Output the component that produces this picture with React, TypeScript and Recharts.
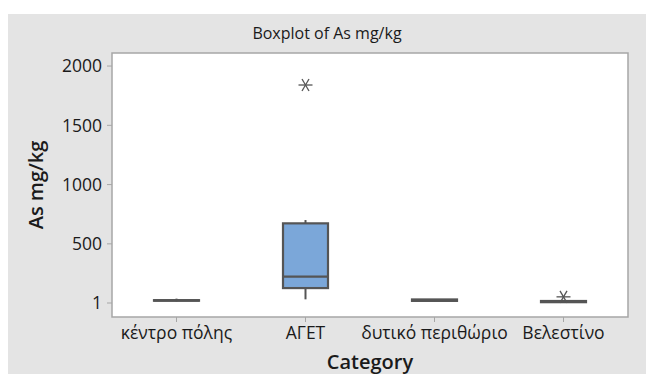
import { ComposedChart, Bar, Scatter, XAxis, YAxis, ReferenceArea } from 'recharts';

// five-number summaries per sampling area
const categories = ['κέντρο πόλης', 'ΑΓΕΤ', 'δυτικό περιθώριο', 'Βελεστίνο'];
const whiskerLow = [15, 32, 15, 5];
const q1Values = [20, 127, 19, 8];
const medianValues = [23, 223, 25, 12];
const q3Values = [25, 673, 31, 18];
const whiskerHigh = [38, 701, 35, 22];
const outlierValues = [null, 1840, null, 53];

const yTicks = [1, 500, 1000, 1500, 2000];
const Y_MIN = -117;
const Y_MAX = 2110;

const data = categories.map((cat, i) => ({
  cat,
  low: whiskerLow[i],
  q1: q1Values[i],
  median: medianValues[i],
  q3: q3Values[i],
  high: whiskerHigh[i],
  outlier: outlierValues[i],
}));

const FONT = '"Open Sans", "Noto Sans", sans-serif';
const BOX_FILL = '#7ba7d9';
const BOX_STROKE = '#555';
const FRAME = '#a6a6a6';
const TEXT = '#1a1a1a';

// The bar spans the whole y domain, so its rect gives the pixel mapping
const BoxShape = (props: any) => {
  const { x, y, width, height, payload } = props;
  const py = (v: number) => y + ((Y_MAX - v) / (Y_MAX - Y_MIN)) * height;
  const cx = x + width / 2;
  const top = py(payload.q3);
  const bottom = py(payload.q1);
  return (
    <g>
      <line x1={cx} x2={cx} y1={py(payload.high)} y2={top} stroke={BOX_STROKE} strokeWidth={2} />
      <line x1={cx} x2={cx} y1={bottom} y2={py(payload.low)} stroke={BOX_STROKE} strokeWidth={2} />
      <rect x={x} y={top} width={width} height={Math.max(bottom - top, 0)} fill={BOX_FILL} stroke={BOX_STROKE} strokeWidth={2.2} />
      <line x1={x} x2={x + width} y1={py(payload.median)} y2={py(payload.median)} stroke={BOX_STROKE} strokeWidth={2.2} />
    </g>
  );
};

const Asterisk = (props: any) => {
  const { cx, cy, payload } = props;
  if (payload == null || payload.outlier == null || cy == null || isNaN(cy)) return null;
  return (
    <g stroke="#555" strokeWidth={1.3}>
      <line x1={cx - 7} x2={cx + 7} y1={cy} y2={cy} />
      <line x1={cx - 3.5} x2={cx + 3.5} y1={cy - 6} y2={cy + 6} />
      <line x1={cx + 3.5} x2={cx - 3.5} y1={cy - 6} y2={cy + 6} />
    </g>
  );
};

const YTitle = (props: any) => {
  const { viewBox } = props;
  const x = viewBox.x + 27;
  const y = viewBox.y + viewBox.height / 2;
  return (
    <text
      x={x}
      y={y}
      transform={`rotate(-90, ${x}, ${y})`}
      textAnchor="middle"
      dominantBaseline="central"
      fontFamily={FONT}
      fontSize={20}
      fontWeight={600}
      fill={TEXT}
    >
      As mg/kg
    </text>
  );
};

const tickStyle = { fontFamily: FONT, fontSize: 17.5, fill: TEXT };

export default function App() {
  return (
    <div style={{ position: 'absolute', left: 8, top: 14, width: 638, height: 360, background: '#e4e4e4' }}>
      <div
        style={{
          position: 'absolute',
          left: 0,
          width: 638,
          top: 8,
          textAlign: 'center',
          fontFamily: FONT,
          fontSize: 16,
          color: TEXT,
        }}
      >
        Boxplot of As mg/kg
      </div>
      <ComposedChart width={638} height={360} data={data} margin={{ top: 39, right: 18, bottom: 0, left: 0 }}>
        <ReferenceArea y1={Y_MIN} y2={Y_MAX} fill="#fff" fillOpacity={1} stroke={FRAME} strokeWidth={1.5} />
        <XAxis
          dataKey="cat"
          height={57}
          axisLine={false}
          tickLine={{ stroke: FRAME }}
          tickSize={5}
          tickMargin={5}
          interval={0}
          tick={tickStyle}
          label={{ value: 'Category', position: 'insideBottom', offset: 5, style: { fontFamily: FONT, fontSize: 20, fontWeight: 600, fill: TEXT } }}
        />
        <YAxis
          width={104}
          type="number"
          domain={[Y_MIN, Y_MAX]}
          allowDataOverflow
          ticks={yTicks}
          interval={0}
          axisLine={false}
          tickLine={{ stroke: FRAME }}
          tickSize={5}
          tickMargin={5}
          tick={tickStyle}
          label={{ content: YTitle }}
        />
        <Bar dataKey={() => [Y_MIN, Y_MAX]} barSize={45} shape={BoxShape} isAnimationActive={false} />
        <Scatter dataKey="outlier" shape={Asterisk} isAnimationActive={false} />
      </ComposedChart>
    </div>
  );
}
